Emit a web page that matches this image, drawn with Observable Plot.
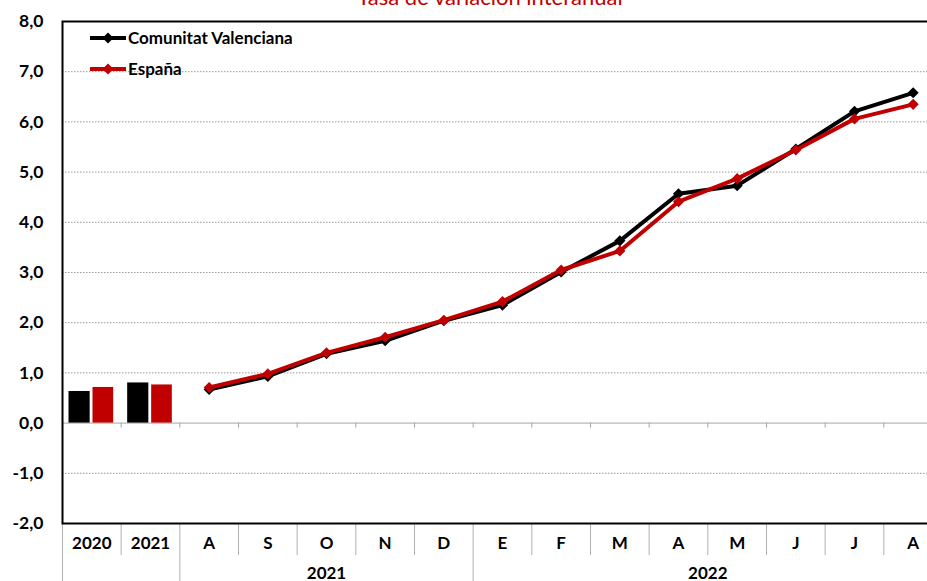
<!DOCTYPE html>
<html><head><meta charset="utf-8">
<script src="https://cdn.jsdelivr.net/npm/d3@7"></script>
<script src="https://cdn.jsdelivr.net/npm/@observablehq/plot@0.6"></script>
<style>
html,body{margin:0;padding:0;background:#fff;overflow:hidden;}
#wrap{position:relative;width:927px;height:581px;overflow:hidden;font-family:Lato,"Open Sans",sans-serif;}
#title{position:absolute;top:-14px;left:0;width:980px;text-align:center;color:#c00000;font-size:22px;line-height:22px;white-space:nowrap;}
#legend{position:absolute;left:90px;top:22px;font-weight:700;font-size:17px;color:#000;}
#legend .row{display:flex;align-items:center;height:31px;}
#legend svg{margin-right:2px;}
#chart{position:absolute;left:0;top:0;width:950px;}
#chart svg{max-width:none !important;height:581px !important;}
</style></head>
<body><div id="wrap"><div id="chart"></div><div id="title">Tasa de variación interanual</div><div id="legend"></div></div>
<script>
// ---- data ----
const periods = ["2020","2021","Ago21","Sep21","Oct21","Nov21","Dic21","Ene22","Feb22","Mar22","Abr22","May22","Jun22","Jul22","Ago22"];
const tickLabels = ["2020","2021","A","S","O","N","D","E","F","M","A","M","J","J","A"];
const annualYears = ["2020","2021"];
const annualCV = [0.63, 0.80];
const annualES = [0.71, 0.76];
const months = ["Ago21","Sep21","Oct21","Nov21","Dic21","Ene22","Feb22","Mar22","Abr22","May22","Jun22","Jul22","Ago22"];
const monthlyCV = [0.67, 0.93, 1.38, 1.64, 2.04, 2.35, 3.01, 3.63, 4.57, 4.73, 5.46, 6.21, 6.58];
const monthlyES = [0.71, 0.98, 1.40, 1.71, 2.05, 2.42, 3.05, 3.43, 4.41, 4.87, 5.44, 6.06, 6.35];
const seriesNames = ["Comunitat Valenciana","España"];
const seriesColors = ["#000000","#c00000"];
const groupLabels = ["2021","2022"];
const groupStarts = ["Ago21","Ene22"];
const yTicks = [-2,-1,0,1,2,3,4,5,6,7,8];

// ---- tables ----
const annual = annualYears.map((y,i)=>({period:y, cv:annualCV[i], es:annualES[i]}));
const monthly = months.map((m,i)=>({period:m, cv:monthlyCV[i], es:monthlyES[i]}));
const labelOf = new Map(periods.map((p,i)=>[p, tickLabels[i]]));

const W = 950, H = 581, mL = 62, mR = 8, mT = 21, mB = 58;
const bw = (W - mL - mR) / periods.length;
const pxPerUnit = (H - mT - mB) / (8 - (-2));
const longSeps = ["2020", ...groupStarts];
const shortSeps = periods.filter(p => !longSeps.includes(p));
const gridVals = yTicks.filter(v => v > -2 && v < 8 && v !== 0);

const chart = Plot.plot({
  width: W, height: H,
  marginLeft: mL, marginRight: mR, marginTop: mT, marginBottom: mB,
  style: {fontFamily: "Lato, 'Open Sans', sans-serif", fontSize: "17px", fontWeight: 700, color: "#000", background: "#fff", overflow: "visible", maxWidth: "none"},
  x: {type: "band", domain: periods, padding: 0, round: false, axis: null},
  y: {domain: [-2, 8], axis: null},
  marks: [
    Plot.gridY(gridVals, {stroke: "#9a9a9a", strokeOpacity: 1, strokeDasharray: "1.5,1.5"}),
    Plot.ruleY([0], {stroke: "#a6a6a6"}),
    Plot.ruleX(periods.slice(1), {x: d => d, y1: 0, y2: -5 / pxPerUnit, dx: -bw / 2, stroke: "#a6a6a6"}),
    Plot.ruleX(shortSeps, {x: d => d, y1: -2, y2: -2 - 32 / pxPerUnit, dx: -bw / 2, stroke: "#b0b0b0"}),
    Plot.ruleX(longSeps, {x: d => d, y1: -2, y2: -2 - 60 / pxPerUnit, dx: -bw / 2, stroke: "#b0b0b0"}),
    Plot.barY(annual, {x: "period", y: "cv", fill: seriesColors[0], insetLeft: 6.5, insetRight: 31}),
    Plot.barY(annual, {x: "period", y: "es", fill: seriesColors[1], insetLeft: 30.5, insetRight: 7.5}),
    Plot.lineY(monthly, {x: "period", y: "cv", stroke: seriesColors[0], strokeWidth: 4}),
    Plot.dot(monthly, {x: "period", y: "cv", symbol: "diamond2", r: 5, fill: seriesColors[0], stroke: "none"}),
    Plot.lineY(monthly, {x: "period", y: "es", stroke: seriesColors[1], strokeWidth: 4}),
    Plot.dot(monthly, {x: "period", y: "es", symbol: "diamond2", r: 5, fill: seriesColors[1], stroke: "none"}),
    Plot.frame({stroke: "#000", strokeWidth: 2}),
    Plot.axisY(yTicks, {tickSize: 0, tickPadding: 19, label: null, tickFormat: d => d.toFixed(1).replace(".", ","), fontSize: 17.5, fontWeight: 700}),
    Plot.axisX(periods, {tickSize: 0, tickPadding: 13.5, label: null, tickFormat: d => labelOf.get(d), fontSize: 17, fontWeight: 700}),
    Plot.text([groupLabels[0]], {x: () => "Oct21", y: () => -2, text: d => d, lineAnchor: "top", dy: 43, fontSize: 17, fontWeight: 700}),
    Plot.text([groupLabels[1]], {x: () => "Abr22", y: () => -2, text: d => d, lineAnchor: "top", dy: 43, dx: bw / 2, fontSize: 17, fontWeight: 700})
  ]
});
document.getElementById("chart").appendChild(chart);

// ---- legend ----
const legend = document.getElementById("legend");
seriesNames.forEach((name, i) => {
  const row = document.createElement("div");
  row.className = "row";
  row.innerHTML = `<svg width="36" height="12" viewBox="0 0 36 12"><line x1="0" y1="6" x2="36" y2="6" stroke="${seriesColors[i]}" stroke-width="4"/><path d="M18,0.5L23.5,6L18,11.5L12.5,6Z" fill="${seriesColors[i]}"/></svg><span>${name}</span>`;
  legend.appendChild(row);
});
</script>
</body></html>
